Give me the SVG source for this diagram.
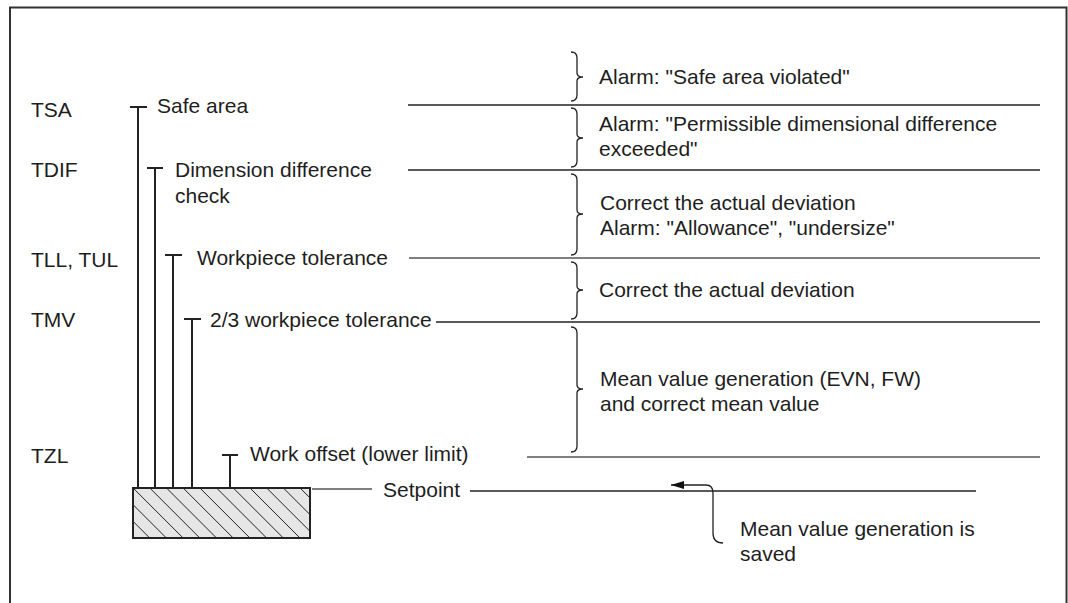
<svg xmlns="http://www.w3.org/2000/svg" width="1068" height="603" viewBox="0 0 1068 603">
<style>
text{font-family:"Liberation Sans",Arial,sans-serif;font-size:21px;fill:#1e1e1e}
.v{stroke:#222;stroke-width:2;fill:none}
.h{stroke:#222;stroke-width:1.5;fill:none}
.g{stroke:#555;stroke-width:1.5;fill:none}
.br{stroke:#222;stroke-width:1.3;fill:none}
</style>
<defs>
<clipPath id="rc"><rect x="133" y="488" width="177" height="50"/></clipPath>
<marker id="ah" markerWidth="14" markerHeight="10" refX="1" refY="5" orient="auto" markerUnits="userSpaceOnUse"><path d="M14,1 L1,5 L14,9 Z" fill="#111"/></marker>
</defs>
<rect x="10" y="7.5" width="1056.5" height="620" fill="none" stroke="#333" stroke-width="2"/>
<g id="labels">
<text x="31" y="117">TSA</text>
<text x="31" y="177">TDIF</text>
<text x="31" y="267">TLL, TUL</text>
<text x="31" y="327">TMV</text>
<text x="31" y="463">TZL</text>
</g>
<g id="workpiece">
<rect x="133" y="488" width="177" height="50" fill="#e6e6e6"/>
<g clip-path="url(#rc)" stroke="#222" stroke-width="1">
<path d="M83,488 l50,50 M99.7,488 l50,50 M116.4,488 l50,50 M133.1,488 l50,50 M149.8,488 l50,50 M166.5,488 l50,50 M183.2,488 l50,50 M199.9,488 l50,50 M216.6,488 l50,50 M233.3,488 l50,50 M250,488 l50,50 M266.7,488 l50,50 M283.4,488 l50,50 M300.1,488 l50,50"/>
</g>
<rect x="133" y="488" width="177" height="50" fill="none" stroke="#222" stroke-width="2"/>
</g>
<g id="tsa">
<path class="v" d="M138,107 V488 M130,107 H147"/>
<text x="157" y="113">Safe area</text>
</g>
<g id="tdif">
<path class="v" d="M155,168 V488 M147,168 H163"/>
<text x="175" y="177">Dimension difference</text>
<text x="175" y="203">check</text>
</g>
<g id="tll">
<path class="v" d="M173,255 V488 M165,255 H182"/>
<text x="197" y="265">Workpiece tolerance</text>
</g>
<g id="tmv">
<path class="v" d="M192,319 V488 M184,319 H201"/>
<text x="210" y="327">2/3 workpiece tolerance</text>
</g>
<g id="tzl">
<path class="v" d="M230,455 V488 M222,455 H238"/>
<text x="250" y="461">Work offset (lower limit)</text>
</g>
<g id="setpoint">
<text x="383" y="497">Setpoint</text>
</g>
<g id="connectors">
<path class="h" d="M408,105 H1040"/>
<path class="h" d="M408,170 H1040"/>
<path class="g" d="M409,258 H1040"/>
<path class="h" d="M436,322 H1040"/>
<path class="g" d="M527,457 H1040"/>
<path class="g" d="M312,489 H372"/>
<path class="h" d="M470,491 H976"/>
<path class="br" d="M571,52 Q577,52 577,58 V73 Q577,77 583,77 Q577,77 577,81 V95 Q577,101 571,101"/>
<path class="br" d="M571,108 Q577,108 577,114 V134 Q577,138 583,138 Q577,138 577,142 V161 Q577,167 571,167"/>
<path class="br" d="M571,174 Q577,174 577,180 V210 Q577,214 583,214 Q577,214 577,218 V249 Q577,255 571,255"/>
<path class="br" d="M571,262 Q577,262 577,268 V286 Q577,290 583,290 Q577,290 577,294 V313 Q577,319 571,319"/>
<path class="br" d="M571,327 Q577,327 577,333 V385 Q577,389 583,389 Q577,389 577,393 V446 Q577,452 571,452"/>
<path fill="none" stroke="#222" stroke-width="1.3" marker-start="url(#ah)" d="M671,485 H706 Q713,485 713,493 V533 Q713,543 723,543"/>
</g>
<g id="notes">
<text x="599" y="84">Alarm: "Safe area violated"</text>
<text x="599" y="131">Alarm: "Permissible dimensional difference</text>
<text x="599" y="156">exceeded"</text>
<text x="600" y="210">Correct the actual deviation</text>
<text x="600" y="235">Alarm: "Allowance", "undersize"</text>
<text x="599" y="297">Correct the actual deviation</text>
<text x="600" y="386">Mean value generation (EVN, FW)</text>
<text x="600" y="411">and correct mean value</text>
<text x="740" y="536">Mean value generation is</text>
<text x="740" y="561">saved</text>
</g>
</svg>
